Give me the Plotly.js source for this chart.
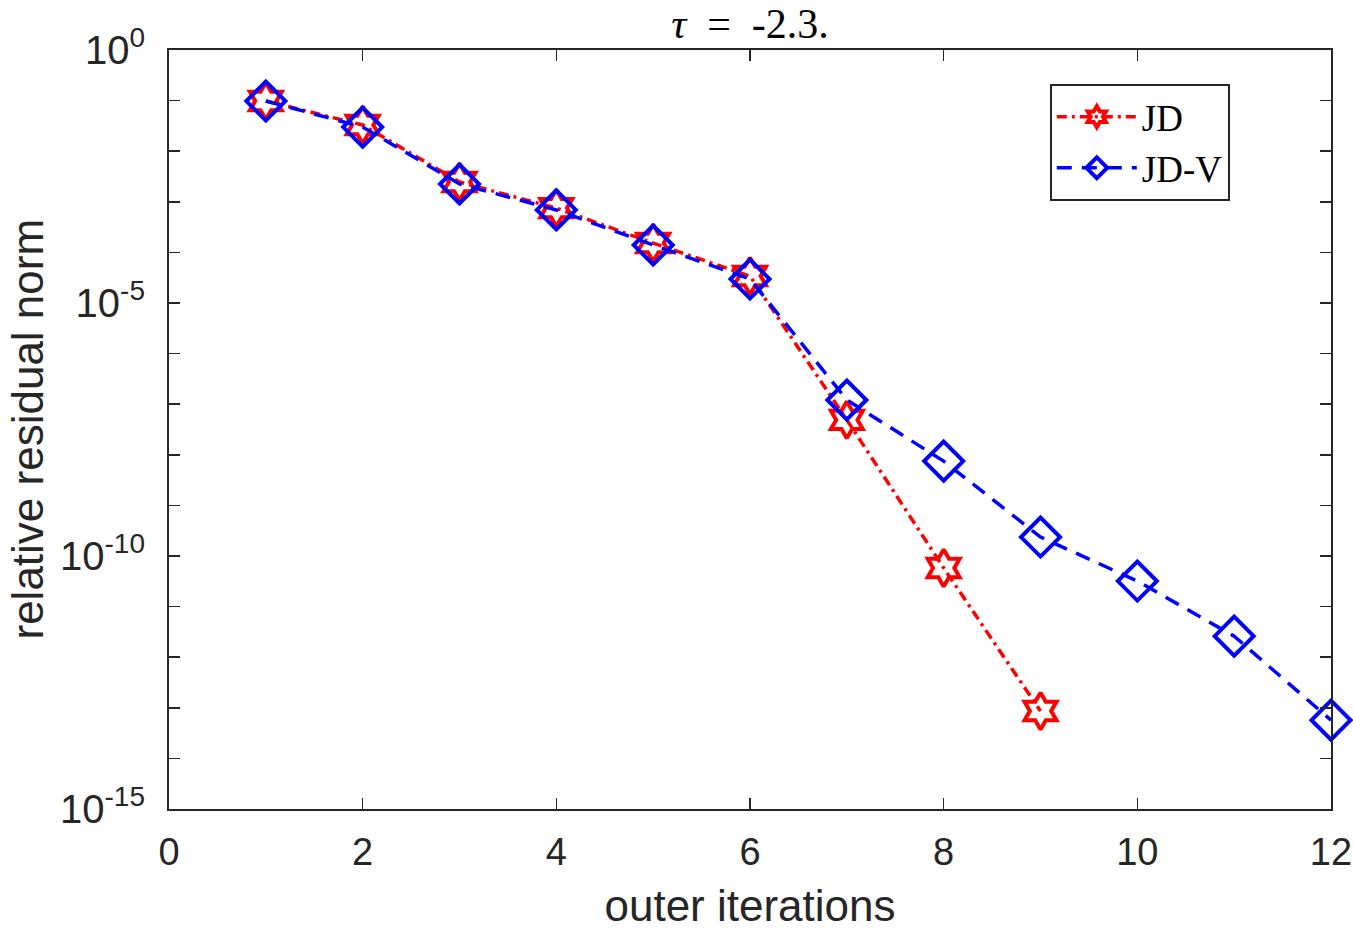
<!DOCTYPE html>
<html>
<head>
<meta charset="utf-8">
<script src="https://cdn.plot.ly/plotly-3.0.1.min.js"></script>
<style>
  html, body { margin: 0; padding: 0; background: #ffffff; }
  #chart { width: 1353px; height: 930px; }
</style>
</head>
<body>
<div id="chart"></div>
<script>
// Outer iteration counts
const itersJD = [1, 2, 3, 4, 5, 6, 7, 8, 9];
const itersJDV = [1, 2, 3, 4, 5, 6, 7, 8, 9, 10, 11, 12];

// Relative residual norm per outer iteration
const residJD = [9.8e-2, 3.3e-2, 2.46e-3, 7.5e-4, 1.53e-4, 3.4e-5, 4.9e-8, 5.8e-11, 8.6e-14];
const residJDV = [9.8e-2, 3.0e-2, 2.25e-3, 6.9e-4, 1.4e-4, 2.98e-5, 1.21e-7, 7.5e-9, 2.37e-10, 3.2e-11, 2.6e-12, 5.7e-14];

// Axis ticks
const xTicks = [0, 2, 4, 6, 8, 10, 12];
const yExponents = [0, -1, -2, -3, -4, -5, -6, -7, -8, -9, -10, -11, -12, -13, -14, -15];

const yTickVals = yExponents.map(e => Math.pow(10, e));
const yTickText = yExponents.map(e => (e % 5 === 0) ? '10<sup>' + e + '</sup>' : '');

const axisColor = '#262626';
const sansFont = 'Liberation Sans, Arial, Helvetica, sans-serif';
const serifFont = 'Liberation Serif, Times New Roman, serif';

const traces = [
  {
    x: itersJD, y: residJD, name: 'JD',
    type: 'scatter', mode: 'lines+markers', cliponaxis: false,
    line: { color: '#ff0000', width: 3.5, dash: '10px,5px,3px,5px' },
    marker: { symbol: 'hexagram-open', size: 28, color: '#ff0000', line: { color: '#ff0000', width: 4 } }
  },
  {
    x: itersJDV, y: residJDV, name: 'JD-V',
    type: 'scatter', mode: 'lines+markers', cliponaxis: false,
    line: { color: '#0000ff', width: 3.5, dash: '15px,10px' },
    marker: { symbol: 'diamond-open', size: 30, color: '#0000ff', line: { color: '#0000ff', width: 4 } }
  }
];

const layout = {
  width: 1353, height: 930,
  margin: { l: 169, r: 22, t: 50, b: 121 },
  paper_bgcolor: '#ffffff', plot_bgcolor: '#ffffff',
  showlegend: true,
  title: {
    text: '<i>τ</i>  =  -2.3.',
    font: { family: serifFont, size: 42, color: '#000000' },
    x: 0.5, xref: 'paper', xanchor: 'center',
    y: 0.975, yref: 'container', yanchor: 'middle'
  },
  xaxis: {
    range: [0, 12], tickvals: xTicks, ticktext: xTicks.map(String),
    ticks: 'inside', ticklen: 11, tickwidth: 1.5, tickcolor: axisColor,
    showline: true, linecolor: axisColor, linewidth: 2, mirror: 'ticks',
    showgrid: false, zeroline: false,
    ticklabelstandoff: 8,
    tickfont: { family: sansFont, size: 38, color: axisColor },
    title: { text: 'outer iterations', font: { family: sansFont, size: 44, color: axisColor }, standoff: 32 }
  },
  yaxis: {
    type: 'log', range: [-15, 0],
    tickvals: yTickVals, ticktext: yTickText,
    ticks: 'inside', ticklen: 11, tickwidth: 1.5, tickcolor: axisColor,
    showline: true, linecolor: axisColor, linewidth: 2, mirror: 'ticks',
    showgrid: false, zeroline: false,
    ticklabelstandoff: 14,
    tickfont: { family: sansFont, size: 40, color: axisColor }
  },
  annotations: [
    {
      text: 'relative residual norm', textangle: -90,
      xref: 'paper', yref: 'paper', x: -0.1222, y: 0.5,
      xanchor: 'center', yanchor: 'middle', showarrow: false,
      font: { family: sansFont, size: 44, color: axisColor }
    }
  ],
  legend: {
    x: 0.758, y: 0.955, xanchor: 'left', yanchor: 'top',
    bgcolor: '#ffffff', bordercolor: axisColor, borderwidth: 2,
    font: { family: serifFont, size: 37, color: '#000000' },
    itemwidth: 80, tracegroupgap: 0
  }
};

Plotly.newPlot('chart', traces, layout, { displayModeBar: false, staticPlot: true });
</script>
</body>
</html>
